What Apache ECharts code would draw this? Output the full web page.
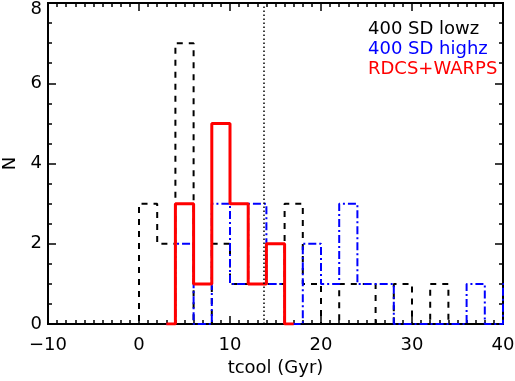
<!DOCTYPE html>
<html>
<head>
<meta charset="utf-8">
<script src="https://cdn.jsdelivr.net/npm/echarts@6/dist/echarts.min.js"></script>
<style>
  html, body { margin: 0; padding: 0; background: #fff; }
  #chart { width: 515px; height: 381px; }
</style>
</head>
<body>
<div id="chart"></div>
<script>
// histogram bins: 2 Gyr wide, x = bin centre, drawn IDL psym=10 style
var lowzCentres = [-1, 1, 3, 5, 7, 9, 11, 13, 15, 17, 19, 21, 23, 25, 27, 29, 31, 33, 35]
var lowzCounts  = [ 0, 3, 2, 7, 0, 2,  1,  1,  1,  3,  1,  0,  1,  1,  0,  1,  0,  1,  0]

var highzCentres = [3, 5, 7, 9, 11, 13, 15, 17, 19, 21, 23, 25, 27, 29, 31, 33, 35, 37, 39, 41]
var highzCounts  = [0, 2, 0, 3,  1,  3,  1,  0,  2,  1,  3,  1,  1,  0,  0,  0,  0,  1,  0,  1]

var rdcsCentres = [3, 5, 7, 9, 11, 13, 15, 17]
var rdcsCounts  = [0, 3, 1, 5,  3,  1,  2,  0]

var ageLine = 13.7
var xTicks = [-10, 0, 10, 20, 30, 40]
var yTicks = [0, 2, 4, 6, 8]

function pairs(xs, ys) {
  return xs.map(function (x, i) { return [x, ys[i]] })
}

var chart = echarts.init(document.getElementById('chart'))
var FONT = 'DejaVu Sans'
var FS = 18
var X0 = xTicks[0], X1 = xTicks[xTicks.length - 1]
var Y0 = yTicks[0], Y1 = yTicks[yTicks.length - 1]

function tick(len, inside) {
  return { show: true, inside: inside, length: len, lineStyle: { color: '#000', width: 1.5 } }
}

// top / right ticks: inside ticks don't render on the opposite axes here,
// so push a label-less axis inward with offset and draw its ticks outward
function mirror(pos, min, max, interval, len) {
  return {
    type: 'value', position: pos, offset: -len,
    min: min, max: max, interval: interval,
    axisLine: { show: false, onZero: false },
    axisTick: tick(len, false),
    axisLabel: { show: false },
    splitLine: { show: false }
  }
}

var option = {
  animation: false,
  grid: {
    left: 48, right: 12, top: 3, bottom: 57,
    containLabel: false, outerBoundsMode: 'none',
    show: true, borderColor: '#000', borderWidth: 2, backgroundColor: 'transparent'
  },
  legend: {
    orient: 'vertical',
    left: 358,
    top: 15,
    icon: 'none',
    itemWidth: 0,
    itemHeight: 14,
    itemGap: 2,
    selectedMode: false,
    textStyle: { fontFamily: FONT, fontSize: FS },
    data: [
      { name: '400 SD lowz', textStyle: { color: '#000' } },
      { name: '400 SD highz', textStyle: { color: '#0000ff' } },
      { name: 'RDCS+WARPS', textStyle: { color: '#ff0000' } }
    ]
  },
  xAxis: [
    {
      type: 'value',
      min: X0, max: X1, interval: 10,
      axisLine: { show: true, onZero: false, lineStyle: { color: '#000', width: 2 } },
      axisTick: tick(8, true),
      minorTick: Object.assign(tick(4, true), { splitNumber: 10 }),
      splitLine: { show: false },
      name: 'tcool (Gyr)',
      nameLocation: 'middle',
      nameGap: 34,
      nameTextStyle: { fontFamily: FONT, fontSize: FS, color: '#000' },
      axisLabel: {
        fontFamily: FONT, fontSize: FS, color: '#000', margin: 12,
        formatter: function (v) { return v < 0 ? '\u2212' + Math.abs(v) : String(v) }
      }
    },
    mirror('top', X0, X1, 10, 8),
    mirror('top', X0, X1, 1, 4)
  ],
  yAxis: [
    {
      type: 'value',
      min: Y0, max: Y1, interval: 2,
      axisLine: { show: true, onZero: false, lineStyle: { color: '#000', width: 2 } },
      axisTick: tick(8, true),
      minorTick: Object.assign(tick(4, true), { splitNumber: 4 }),
      splitLine: { show: false },
      name: 'N',
      nameLocation: 'middle',
      nameGap: 29,
      nameRotate: 90,
      nameTextStyle: { fontFamily: FONT, fontSize: FS, color: '#000' },
      axisLabel: {
        fontFamily: FONT, fontSize: FS, color: '#000', margin: 6,
        formatter: function (v) { return v === 8 ? '{t|8}' : String(v) },
        rich: { t: { fontFamily: FONT, fontSize: FS, color: '#000', padding: [12, 0, 0, 0] } }
      }
    },
    mirror('right', Y0, Y1, 2, 8),
    mirror('right', Y0, Y1, 0.5, 4)
  ],
  series: [
    {
      name: '400 SD lowz',
      type: 'line',
      step: 'middle',
      showSymbol: false,
      color: '#000',
      lineStyle: { color: '#000', width: 2, type: [6, 6] },
      data: pairs(lowzCentres, lowzCounts),
      markLine: {
        silent: true,
        symbol: 'none',
        label: { show: false },
        lineStyle: { color: '#000', width: 1.5, type: [1.5, 2.5] },
        data: [{ xAxis: ageLine }]
      }
    },
    {
      name: '400 SD highz',
      type: 'line',
      step: 'middle',
      showSymbol: false,
      color: '#0000ff',
      lineStyle: { color: '#0000ff', width: 2, type: [8, 3, 2, 3] },
      data: pairs(highzCentres, highzCounts)
    },
    {
      name: 'RDCS+WARPS',
      type: 'line',
      step: 'middle',
      showSymbol: false,
      color: '#ff0000',
      lineStyle: { color: '#ff0000', width: 3 },
      data: pairs(rdcsCentres, rdcsCounts)
    }
  ]
}

chart.setOption(option)
</script>
</body>
</html>
